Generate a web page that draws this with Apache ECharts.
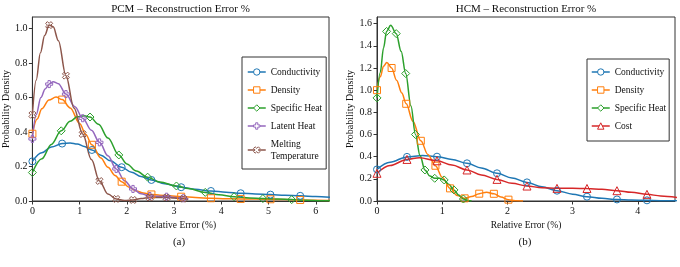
<!DOCTYPE html>
<html><head><meta charset="utf-8">
<script src="https://cdn.jsdelivr.net/npm/echarts@6/dist/echarts.min.js"></script>
<style>html,body{margin:0;padding:0;background:#fff}#c{width:680px;height:267px}</style>
</head><body><div id="c"></div>
<script>
// ---- data ----
const pcmTicksX = [0,1,2,3,4,5,6];
const pcmTicksY = [0,0.2,0.4,0.6,0.8,1.0];
const hcmTicksX = [0,1,2,3,4];
const hcmTicksY = [0,0.2,0.4,0.6,0.8,1.0,1.2,1.4,1.6];

const pcmNames = ['Conductivity','Density','Specific Heat','Latent Heat','Melting Temperature'];
const hcmNames = ['Conductivity','Density','Specific Heat','Cost'];

const pcmCond = [[0,0.23],[0.2,0.28],[0.4,0.313],[0.63,0.333],[0.8,0.337],[0.95,0.331],[1.1,0.316],[1.26,0.296],[1.45,0.266],[1.65,0.233],[1.89,0.196],[2.1,0.166],[2.3,0.142],[2.52,0.122],[2.8,0.1],[3.15,0.08],[3.45,0.068],[3.78,0.058],[4.1,0.051],[4.41,0.045],[4.72,0.041],[5.04,0.037],[5.35,0.034],[5.67,0.03],[6.0,0.026],[6.3,0.022]];
const pcmCondMarks = [0,0.63,1.26,1.89,2.52,3.15,3.78,4.41,5.04,5.67];
const pcmDens = [[0,0.39],[0.1,0.475],[0.2,0.535],[0.35,0.585],[0.5,0.603],[0.63,0.588],[0.8,0.54],[1.0,0.45],[1.13,0.385],[1.26,0.326],[1.45,0.25],[1.6,0.195],[1.75,0.148],[1.89,0.112],[2.05,0.08],[2.2,0.058],[2.35,0.046],[2.52,0.038],[2.7,0.034],[2.9,0.03],[3.15,0.025],[3.45,0.02],[3.78,0.016],[4.1,0.013],[4.41,0.012],[4.72,0.011],[5.04,0.01],[5.35,0.008],[5.67,0.006],[6.0,0.004],[6.3,0.003]];
const pcmDensMarks = [0,0.63,1.26,1.89,2.52,3.15,3.78,4.41,5.04,5.67];
const pcmSpec = [[0,0.165],[0.2,0.245],[0.4,0.328],[0.61,0.407],[0.8,0.462],[0.95,0.488],[1.1,0.494],[1.22,0.487],[1.4,0.445],[1.6,0.365],[1.83,0.267],[2.0,0.215],[2.2,0.174],[2.44,0.138],[2.7,0.11],[3.05,0.087],[3.3,0.072],[3.66,0.05],[3.95,0.036],[4.27,0.025],[4.6,0.018],[4.88,0.014],[5.2,0.011],[5.49,0.008],[5.8,0.004],[6.1,0.002],[6.3,0.001]];
const pcmSpecMarks = [0,0.61,1.22,1.83,2.44,3.05,3.66,4.27,4.88,5.49];
const pcmLat = [[0,0.36],[0.08,0.5],[0.18,0.6],[0.27,0.65],[0.355,0.678],[0.44,0.692],[0.55,0.68],[0.71,0.62],[0.9,0.547],[1.065,0.48],[1.25,0.41],[1.42,0.34],[1.6,0.262],[1.775,0.186],[1.95,0.118],[2.13,0.07],[2.3,0.042],[2.485,0.029],[2.65,0.027],[2.84,0.025],[3.0,0.021],[3.195,0.016],[3.3,0.012]];
const pcmLatMarks = [0,0.355,0.71,1.065,1.42,1.775,2.13,2.485,2.84,3.195];
const pcmMelt = [[0,0.5],[0.08,0.7],[0.17,0.86],[0.26,0.96],[0.355,1.02],[0.44,1.01],[0.55,0.93],[0.71,0.727],[0.88,0.54],[1.065,0.388],[1.25,0.24],[1.42,0.116],[1.6,0.04],[1.775,0.012],[1.95,0.003],[2.13,0.006],[2.3,0.014],[2.485,0.02],[2.65,0.021],[2.84,0.02],[3.0,0.017],[3.195,0.013],[3.3,0.01]];
const pcmMeltMarks = [0,0.355,0.71,1.065,1.42,1.775,2.13,2.485,2.84,3.195];

const hcmCond = [[0,0.285],[0.2,0.35],[0.46,0.398],[0.7,0.41],[0.92,0.4],[1.15,0.375],[1.38,0.34],[1.6,0.297],[1.84,0.25],[2.07,0.208],[2.3,0.168],[2.53,0.128],[2.76,0.093],[3.0,0.062],[3.22,0.039],[3.45,0.024],[3.68,0.014],[3.9,0.009],[4.14,0.006],[4.35,0.003],[4.6,0.002]];
const hcmCondMarks = [0,0.46,0.92,1.38,1.84,2.3,2.76,3.22,3.68,4.14];
const hcmDens = [[0,1.0],[0.05,1.12],[0.1,1.215],[0.15,1.25],[0.224,1.2],[0.3,1.09],[0.38,0.975],[0.448,0.877],[0.55,0.72],[0.672,0.543],[0.78,0.42],[0.896,0.318],[1.0,0.215],[1.12,0.114],[1.23,0.05],[1.344,0.024],[1.45,0.04],[1.568,0.066],[1.68,0.08],[1.792,0.065],[1.9,0.036],[2.016,0.012],[2.12,0.003],[2.24,0]];
const hcmDensMarks = [0,0.224,0.448,0.672,0.896,1.12,1.344,1.568,1.792,2.016];
const hcmSpec = [[0,0.93],[0.05,1.16],[0.1,1.38],[0.147,1.53],[0.21,1.585],[0.295,1.51],[0.37,1.35],[0.44,1.15],[0.52,0.86],[0.59,0.6],[0.66,0.41],[0.735,0.28],[0.81,0.225],[0.885,0.205],[0.96,0.205],[1.03,0.19],[1.1,0.15],[1.18,0.1],[1.25,0.055],[1.325,0.018],[1.39,0.005],[1.45,0]];
const hcmSpecMarks = [0,0.147,0.295,0.44,0.59,0.735,0.885,1.03,1.18,1.325];
const hcmCost = [[0,0.25],[0.2,0.32],[0.46,0.375],[0.65,0.39],[0.92,0.363],[1.15,0.325],[1.38,0.28],[1.6,0.235],[1.84,0.195],[2.07,0.16],[2.3,0.135],[2.53,0.12],[2.76,0.114],[3.0,0.114],[3.22,0.113],[3.45,0.105],[3.68,0.093],[3.9,0.078],[4.14,0.06],[4.35,0.046],[4.6,0.032]];
const hcmCostMarks = [0,0.46,0.92,1.38,1.84,2.3,2.76,3.22,3.68,4.14];

// ---- styling ----
const FONT = 'Liberation Serif';
const COLORS = {'Conductivity':'#1f77b4','Density':'#ff7f0e','Specific Heat':'#2ca02c','Latent Heat':'#9467bd','Melting Temperature':'#8c564b','Cost':'#d62728'};
const PLUS = 'path://M-1,-3L1,-3L1,-1L3,-1L3,1L1,1L1,3L-1,3L-1,1L-3,1L-3,-1L-1,-1Z';
const XMARK = 'path://M1.414,-2.828L2.828,-1.414L1.414,0L2.828,1.414L1.414,2.828L0,1.414L-1.414,2.828L-2.828,1.414L-1.414,0L-2.828,-1.414L-1.414,-2.828L0,-1.414Z';
const SYMBOLS = {'Conductivity':'circle','Density':'rect','Specific Heat':'diamond','Latent Heat':PLUS,'Melting Temperature':XMARK,'Cost':'triangle'};
const SIZES = {'Conductivity':7,'Density':7,'Specific Heat':8,'Latent Heat':7,'Melting Temperature':7,'Cost':8};

function mkSeries(name, pts, marks, idx) {
  const c = COLORS[name];
  return {
    type:'line', name, xAxisIndex:idx, yAxisIndex:idx,
    smooth:0.35, smoothMonotone:'x', showAllSymbol:true,
    symbol:SYMBOLS[name], symbolSize:SIZES[name], color:c,
    lineStyle:{color:c, width:1.5},
    itemStyle:{color:'rgba(255,255,255,0)', borderColor:c, borderWidth:1},
    emphasis:{disabled:true},
    data: pts.map(p => marks.some(m => Math.abs(m-p[0])<1e-9) ? {value:p} : {value:p, symbol:'none'}),
    clip:true, z: 2
  };
}

function mkX(idx, max, ticks) {
  return {gridIndex:idx, type:'value', min:0, max,
    name:'Relative Error (%)', nameLocation:'middle', nameGap:12,
    nameTextStyle:{fontFamily:FONT, fontSize:9.5, color:'#111'},
    axisLine:{show:true, onZero:false, lineStyle:{color:'#333', width:1}},
    axisTick:{show:true, inside:false, length:3.5, lineStyle:{color:'#333'}, customValues:ticks},
    axisLabel:{fontFamily:FONT, fontSize:10, color:'#111', margin:5, customValues:ticks, formatter:v=>String(v)},
    splitLine:{show:false}};
}
function mkY(idx, max, ticks, gap) {
  return {gridIndex:idx, type:'value', min:0, max,
    name:'Probability Density', nameLocation:'middle', nameGap:gap,
    nameTextStyle:{fontFamily:FONT, fontSize:10, color:'#111'},
    axisLine:{show:true, onZero:false, lineStyle:{color:'#333', width:1}},
    axisTick:{show:true, inside:false, length:3.5, lineStyle:{color:'#333'}, customValues:ticks},
    axisLabel:{fontFamily:FONT, fontSize:10, color:'#111', margin:5, customValues:ticks, formatter:v=>v.toFixed(1)},
    splitLine:{show:false}};
}
function mkLegend(names, left, top, pad) {
  return {data:names, orient:'vertical', left, top, padding:pad, itemGap:6,
    itemWidth:18, itemHeight:8, backgroundColor:'#fff', borderColor:'#333', borderWidth:1, borderRadius:0,
    selectedMode:false,
    itemStyle:{color:'#fff', borderColor:'inherit', borderWidth:1},
    lineStyle:{color:'inherit', width:1.5},
    formatter: n => n === 'Melting Temperature' ? 'Melting\nTemperature' : n,
    textStyle:{fontFamily:FONT, fontSize:9.5, color:'#111', lineHeight:12}};
}
function mkTitle(text, left, top, size) {
  return {text, left, top, textAlign:'center', padding:0,
    textStyle:{fontFamily:FONT, fontSize:size, fontWeight:'normal', color:'#111'}};
}

const chart = echarts.init(document.getElementById('c'), null, {renderer:'canvas'});
chart.setOption({
  animation:false, backgroundColor:'#fff',
  title:[
    mkTitle('PCM – Reconstruction Error %', 180.5, 4, 11),
    mkTitle('HCM – Reconstruction Error %', 526, 4, 11),
    mkTitle('(a)', 179, 237, 11),
    mkTitle('(b)', 525, 237, 11)
  ],
  grid:[
    {left:32, top:17, width:297, height:184, show:true, borderColor:'#333', borderWidth:1, containLabel:false},
    {left:377, top:17, width:298, height:184, show:true, borderColor:'#333', borderWidth:1, containLabel:false}
  ],
  xAxis:[mkX(0, 6.28, pcmTicksX), mkX(1, 4.57, hcmTicksX)],
  yAxis:[mkY(0, 1.067, pcmTicksY, 18), mkY(1, 1.66, hcmTicksY, 20)],
  legend:[mkLegend(pcmNames, 242, 57, [9,4,7,5]), mkLegend(hcmNames, 587, 59, [7,3,9,4])],
  series:[
    mkSeries('Conductivity', pcmCond, pcmCondMarks, 0),
    mkSeries('Density', pcmDens, pcmDensMarks, 0),
    mkSeries('Specific Heat', pcmSpec, pcmSpecMarks, 0),
    mkSeries('Latent Heat', pcmLat, pcmLatMarks, 0),
    mkSeries('Melting Temperature', pcmMelt, pcmMeltMarks, 0),
    mkSeries('Conductivity', hcmCond, hcmCondMarks, 1),
    mkSeries('Density', hcmDens, hcmDensMarks, 1),
    mkSeries('Specific Heat', hcmSpec, hcmSpecMarks, 1),
    mkSeries('Cost', hcmCost, hcmCostMarks, 1)
  ]
});
</script></body></html>
